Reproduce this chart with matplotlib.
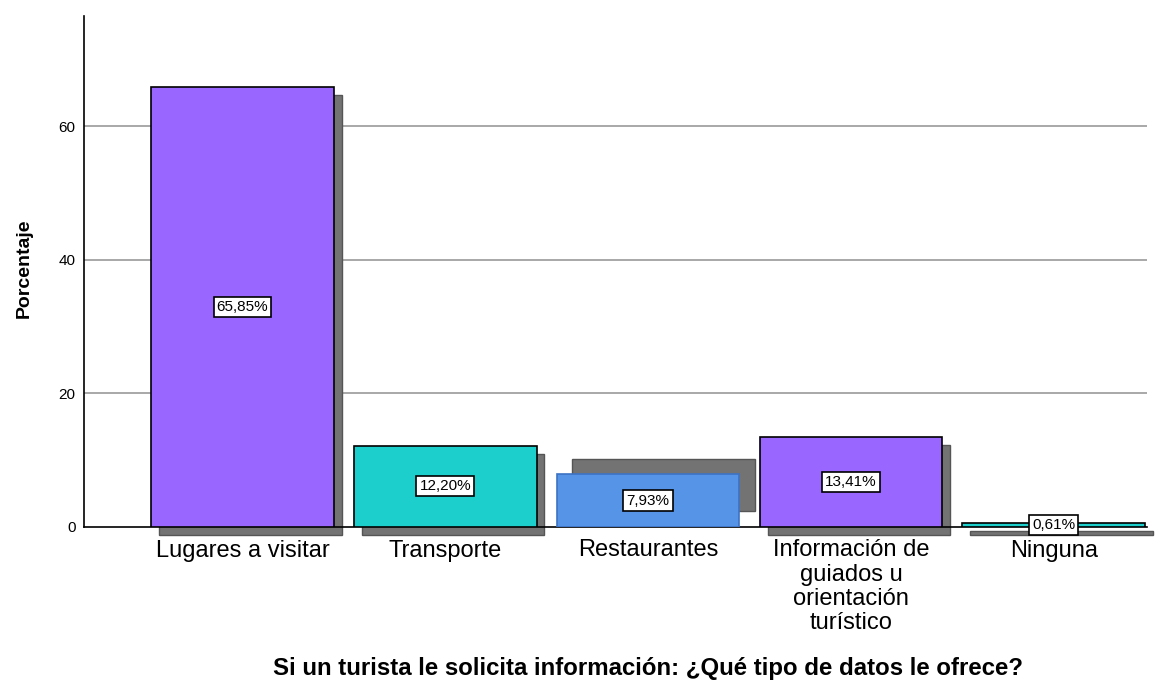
import matplotlib
matplotlib.use("Agg")
import matplotlib.pyplot as plt
from matplotlib.patches import Rectangle

plt.rcParams['font.family'] = ['Liberation Sans', 'DejaVu Sans']

categories = ["Lugares a visitar", "Transporte", "Restaurantes",
              "Información de\nguiados u\norientación\nturístico", "Ninguna"]
values = [65.85, 12.20, 7.93, 13.41, 0.61]
value_labels = ["65,85%", "12,20%", "7,93%", "13,41%", "0,61%"]
yticks = [0, 20, 40, 60]

colors = ["#9966ff", "#1ccfcc", "#5594e6", "#9966ff", "#1ccfcc"]
edges = ["#000000", "#000000", "#3d72c4", "#000000", "#000000"]

W, H = 1163, 681
fig = plt.figure(figsize=(W / 100, H / 100), dpi=100)
ax = fig.add_axes([84 / W, 1 - 527 / H, (1147 - 84) / W, (527 - 16) / H])

ax.set_xlim(-0.781, 4.46)
ax.set_ylim(0, 76.5)

# pixel -> data unit conversions
px_x = 1 / 202.9
px_y = 1 / 6.683
width = 0.9

for i, v in enumerate(values):
    x0 = i - width / 2
    if i == 2:
        # glitchy shadow of the SPSS rendering for this bar
        sh = Rectangle((x0 + 15 * px_x, 16 * px_y), width + 1 * px_x,
                       v + 15 * px_y - 16 * px_y,
                       facecolor="#737373", edgecolor="#555555", lw=1,
                       zorder=2, clip_on=False)
    else:
        sh = Rectangle((x0 + 8 * px_x, -8 * px_y), width, v,
                       facecolor="#737373", edgecolor="#555555", lw=1,
                       zorder=2, clip_on=False)
    ax.add_patch(sh)

ax.bar(range(len(values)), values, width=width, color=colors,
       edgecolor=edges, linewidth=1.2, zorder=3)

for i, (v, lab) in enumerate(zip(values, value_labels)):
    yy = v / 2 if v > 2 else 0.3
    ax.text(i, yy, lab, ha="center", va="center", fontsize=11, zorder=5,
            bbox=dict(boxstyle="square,pad=0.2", facecolor="white",
                      edgecolor="black", linewidth=1.2))

ax.set_yticks(yticks)
ax.set_yticklabels([str(t) for t in yticks], fontsize=11)
ax.tick_params(axis="y", length=0, pad=6)
ax.set_xticks(range(len(categories)))
ax.set_xticklabels(categories, fontsize=17, linespacing=1.13)
ax.tick_params(axis="x", length=0, pad=9)

for t in yticks[1:]:
    ax.axhline(t, color="#999999", lw=1.2, zorder=1)

for s in ["top", "right"]:
    ax.spines[s].set_visible(False)
ax.spines["left"].set_linewidth(1.2)
ax.spines["bottom"].set_linewidth(1.2)
ax.spines["left"].set_zorder(4)
ax.spines["bottom"].set_zorder(2.5)

ax.set_ylabel("Porcentaje", fontsize=14, fontweight="bold")
ax.yaxis.set_label_coords(-0.048, 0.507)
fig.text(648 / W, 1 - 669 / H,
         "Si un turista le solicita información: ¿Qué tipo de datos le ofrece?",
         ha="center", va="center", fontsize=17.3, fontweight="bold")

fig.savefig("out.png", dpi=100, facecolor="white")
